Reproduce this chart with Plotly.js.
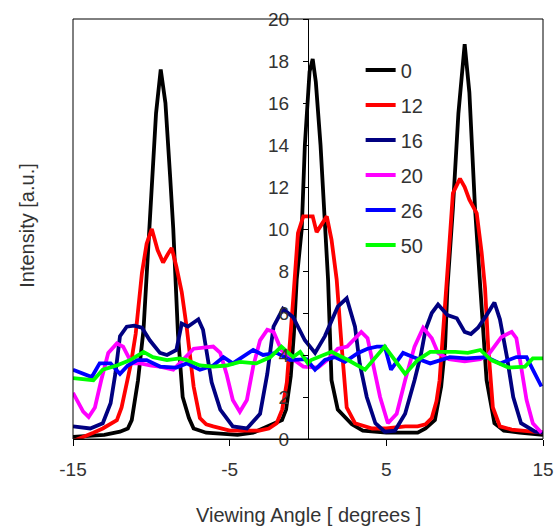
<!DOCTYPE html>
<html>
<head>
<meta charset="utf-8">
<script src="https://cdn.plot.ly/plotly-3.0.1.min.js"></script>
<style>html,body{margin:0;padding:0;background:#fff;}#chart{width:559px;height:527px;}</style>
</head>
<body>
<div id="chart"></div>
<script>
// Series names (legend labels)
const seriesNames = ["0", "12", "16", "20", "26", "50"];
const seriesColors = ["#000000", "#ff0000", "#000080", "#ff00ff", "#0000ff", "#00ff00"];

// Series "0"
const x0 = [-15,-14,-13,-12,-11.5,-11.25,-10.85,-10.5,-10.1,-9.7,-9.4,-9.1,-8.8,-8.6,-8.3,-8.0,-7.6,-7.3,-6.5,-5.5,-4.5,-3.5,-2.55,-1.66,-1.4,-1.1,-0.9,-0.72,-0.4,-0.2,0.1,0.3,0.5,0.8,1.1,1.28,1.4,1.5,1.9,2.8,3.5,5,6,7,7.5,8.1,8.5,8.75,8.9,9.25,9.6,10.0,10.3,10.66,11.0,11.4,11.9,12.5,13.5,15];
const y0 = [0.1,0.15,0.2,0.35,0.5,0.9,2.8,5.2,10.0,15.5,17.6,16.0,12.5,10.0,5.0,2.0,1.0,0.5,0.3,0.25,0.2,0.3,0.6,0.9,1.4,3.0,5.0,7.6,10.0,14.0,17.5,18.1,17.0,14.0,10.0,7.6,5.0,2.8,1.4,0.7,0.4,0.3,0.3,0.3,0.5,0.9,2.5,4.4,7.2,11.0,15.5,18.8,16.5,11.0,7.2,2.8,0.75,0.4,0.3,0.2];

// Series "12"
const x12 = [-15,-14.3,-13.7,-13.1,-12.6,-12.2,-11.9,-11.6,-11.3,-11.0,-10.6,-10.3,-9.97,-9.6,-9.25,-8.95,-8.7,-8.4,-8.06,-7.74,-7.3,-6.9,-6.5,-6.05,-5,-4.0,-3.1,-2.5,-2.0,-1.65,-1.35,-0.95,-0.64,-0.3,0.0,0.3,0.55,0.85,1.2,1.5,1.83,2.15,2.47,3.0,4.1,5.0,6.2,7.0,7.5,7.9,8.2,8.4,8.74,9.0,9.25,9.7,10.0,10.3,10.77,11.08,11.3,11.5,11.8,12.25,13.0,13.85,15];
const y12 = [-0.1,0.1,0.3,0.5,0.7,0.9,1.5,2.5,3.6,5.0,7.9,9.3,10.0,9.0,8.4,8.8,9.1,8.2,7.0,5.3,2.5,1.0,0.7,0.6,0.4,0.4,0.4,0.5,0.75,1.4,2.7,6.6,9.8,10.6,10.6,10.6,9.85,10.2,10.6,9.5,7.6,4.4,1.5,0.75,0.5,0.5,0.6,0.6,0.7,1.0,1.8,2.8,6.0,9.0,11.7,12.4,12.0,11.4,10.75,8.9,7.2,4.4,1.5,0.6,0.45,0.4,0.3];

// Series "16"
const x16 = [-15,-14.5,-13.9,-13.1,-12.6,-12.3,-12.0,-11.57,-11.1,-10.6,-10.1,-9.45,-9.0,-8.4,-8.06,-7.66,-7.0,-6.7,-6.47,-6.15,-5.6,-4.8,-3.9,-3.06,-2.6,-2.2,-1.6,-0.95,-0.2,0.45,1.08,1.5,1.9,2.47,3.0,3.3,3.75,4.3,4.9,5.55,6.2,6.8,7.2,7.5,7.9,8.3,8.9,9.5,10.0,10.4,10.85,11.4,11.9,12.25,12.7,13.1,13.6,14.5,15];
const y16 = [0.6,0.55,0.5,0.75,1.7,3.1,4.9,5.35,5.4,5.3,4.7,4.1,4.0,4.24,5.5,5.35,5.7,5.2,4.24,2.7,1.4,0.6,0.5,1.2,3.1,5.35,6.2,5.8,4.7,4.1,4.9,5.6,6.3,6.7,5.35,3.6,2.0,0.75,0.35,0.4,1.2,2.8,4.0,5.2,6.0,6.4,5.9,5.75,5.1,5.0,5.3,5.9,6.5,5.7,3.9,2.0,0.75,0.35,0.3];

// Series "20"
const x20 = [-15,-14.35,-14.0,-13.6,-13.2,-12.75,-12.2,-11.8,-11.25,-10.7,-10.0,-9.45,-8.6,-8.0,-7.3,-6.05,-5.6,-5.2,-4.8,-4.35,-3.9,-3.5,-3.06,-2.6,-2.2,-1.7,-1.15,-0.3,0.64,1.3,1.9,2.5,3.4,3.8,4.15,4.6,5.1,5.66,6.2,6.8,7.35,7.9,8.3,9.0,10.0,11.0,11.5,12.35,13.0,13.3,13.6,13.95,14.35,14.9];
const y20 = [2.2,1.3,1.05,1.5,2.8,4.1,4.55,4.4,3.6,3.6,3.5,3.45,3.3,3.76,4.3,4.4,4.1,3.1,1.86,1.3,1.86,3.45,4.7,5.2,5.1,4.24,3.9,3.45,3.4,3.8,4.3,4.4,5.1,4.8,3.6,2.0,0.75,1.2,2.8,4.4,5.3,4.8,4.1,3.8,3.7,3.8,4.0,4.86,5.1,4.8,3.45,1.86,0.75,0.3];

// Series "26"
const x26 = [-15,-14.1,-13.8,-13.3,-12.6,-12.0,-11.5,-10.9,-10.3,-9.45,-8.4,-7.74,-6.9,-6.05,-5.4,-4.8,-4.15,-3.5,-2.87,-2.0,-1.15,-0.1,0.45,1.08,1.7,2.36,3.2,3.8,4.4,4.9,5.3,6.07,6.7,7.8,9.06,10.1,11.4,12.25,13.3,13.95,14.35,14.9];
const y26 = [3.3,3.05,2.95,3.6,3.6,3.1,3.5,3.76,3.76,3.45,3.4,3.6,3.3,3.5,3.9,3.6,3.9,4.24,4.0,4.1,3.76,3.8,3.3,3.76,3.9,3.67,4.1,4.3,4.4,4.4,3.3,4.1,3.9,3.6,3.9,3.84,3.9,3.6,3.9,3.9,3.3,2.5];

// Series "50"
const x50 = [-15,-14.1,-13.7,-13.1,-12.2,-11.35,-10.5,-9.9,-9.0,-8.2,-7.74,-6.9,-6.05,-5.2,-4.35,-3.3,-2.4,-1.7,-0.95,-0.5,0.0,0.2,1.5,2.55,3.64,4.9,5.55,6.2,7.0,7.8,8.3,9.4,10.2,11.0,11.7,12.8,13.85,14.35,15];
const y50 = [2.9,2.8,2.8,3.3,3.5,3.76,4.15,3.9,3.76,3.84,3.76,3.5,3.45,3.5,3.67,3.6,3.9,4.4,3.9,4.15,3.6,3.76,4.15,3.76,3.3,4.4,3.76,3.1,3.76,4.15,4.15,4.15,4.1,4.24,3.76,3.4,3.45,3.84,3.84];

// Axis ticks
const xTickVals = [-15, -5, 5, 15];
const yTickVals = [0, 2, 4, 6, 8, 10, 12, 14, 16, 18, 20];

const xs = [x0, x12, x16, x20, x26, x50];
const ys = [y0, y12, y16, y20, y26, y50];

const FONT = "Liberation Sans, Arial, sans-serif";
const TXT = "#333333";

const traces = seriesNames.map((name, i) => ({
  x: xs[i], y: ys[i], type: "scatter", mode: "lines", name: name,
  legendgroup: "g" + i,
  line: {color: seriesColors[i], width: 3.8},
  hoverinfo: "skip"
}));

const layout = {
  width: 559, height: 527,
  margin: {l: 73, r: 16, t: 19, b: 88},
  paper_bgcolor: "#ffffff", plot_bgcolor: "#ffffff",
  font: {family: FONT, size: 19, color: TXT},
  showlegend: true,
  legend: {
    x: 0.612, xanchor: "left", y: 0.925, yanchor: "top",
    bgcolor: "rgba(0,0,0,0)", borderwidth: 0,
    font: {family: FONT, size: 20, color: TXT},
    traceorder: "grouped", tracegroupgap: 6
  },
  xaxis: {
    range: [-15, 15], tickvals: xTickVals, ticktext: xTickVals.map(String),
    ticks: "outside", ticklen: 6, tickcolor: "#000", tickwidth: 1,
    showline: true, linecolor: "#000", linewidth: 1,
    showgrid: false, zeroline: false,
    ticklabelstandoff: 7,
    tickfont: {family: FONT, size: 19, color: TXT}
  },
  yaxis: {
    range: [0, 20], tickvals: yTickVals, ticktext: yTickVals.map(String),
    anchor: "free", position: 0.5,
    ticks: "outside", ticklen: 5, tickcolor: "#000", tickwidth: 1,
    showline: true, linecolor: "#000", linewidth: 1,
    showgrid: false, zeroline: false,
    ticklabelstandoff: 10,
    tickfont: {family: FONT, size: 19, color: TXT}
  },
  shapes: [{
    type: "rect", xref: "paper", yref: "paper", x0: 0, x1: 1, y0: 0, y1: 1,
    line: {color: "#000", width: 1}, fillcolor: "rgba(0,0,0,0)", layer: "above"
  }],
  annotations: [{
    text: "Intensity [a.u.]", xref: "paper", yref: "paper",
    x: -0.098, y: 0.51, xanchor: "center", yanchor: "middle",
    textangle: -90, showarrow: false,
    font: {family: FONT, size: 20, color: TXT}
  }, {
    text: "Viewing Angle [ degrees ]", xref: "paper", yref: "paper",
    x: 0.5, y: -0.181, xanchor: "center", yanchor: "middle",
    showarrow: false,
    font: {family: FONT, size: 20, color: TXT}
  }]
};

Plotly.newPlot("chart", traces, layout, {displayModeBar: false, staticPlot: true});
</script>
</body>
</html>
